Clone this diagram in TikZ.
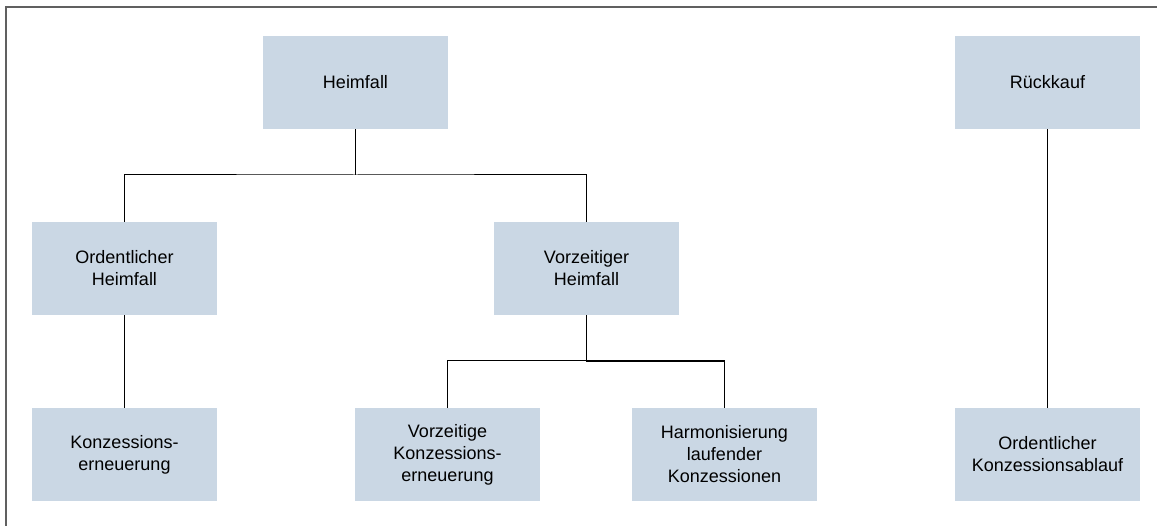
\documentclass[tikz,border=0pt]{standalone}
\usepackage{fontspec}
\setmainfont{Liberation Sans}
\definecolor{boxblue}{RGB}{202,215,228}
\definecolor{framegray}{RGB}{96,96,96}
\begin{document}
\begin{tikzpicture}[x=1pt,y=-1pt,
  box/.style={rectangle, fill=boxblue, draw=none, inner sep=0pt,
    minimum width=185pt, minimum height=93pt, align=center,
    font=\fontsize{18}{22}\selectfont},
  link/.style={draw=black, line width=1pt},
  linkbold/.style={draw=black, line width=1.8pt, line join=miter}]
\useasboundingbox (0,0) rectangle (1157,526);

% frame (left and top edges)
\draw[framegray, line width=2pt] (6,526) -- (6,7) -- (1157,7);

% boxes
\node[box] (heim)  at (355.5,82.5)  {Heimfall};
\node[box] (ord)   at (124.5,268.5) {Ordentlicher\\Heimfall};
\node[box] (vor)   at (586.5,268.5) {Vorzeitiger\\Heimfall};
\node[box] (kon)   at (124.5,454.5) {Konzessions-\\erneuerung};
\node[box] (vkon)  at (447.5,454.5) {Vorzeitige\\Konzessions-\\erneuerung};
\node[box] (harm)  at (724.5,454.5) {Harmonisierung\\laufender\\Konzessionen};
\node[box] (rueck) at (1047.5,82.5) {Rückkauf};
\node[box] (okab)  at (1047.5,454.5) {Ordentlicher\\Konzessionsablauf};

% junction points
\coordinate (hj) at (355.5,175);
\coordinate (vj) at (586.5,361);

% connectors
\draw[link] (heim.south) -- (hj);
\draw[link] (ord.north) |- (hj) -| (vor.north);
\draw[link] (ord.south) -- (kon.north);
\draw[link] (vkon.north) |- (vj);
\draw[linkbold] (vor.south) -- (vj) -| (harm.north);
\draw[link] (rueck.south) -- (okab.north);
\end{tikzpicture}
\end{document}
